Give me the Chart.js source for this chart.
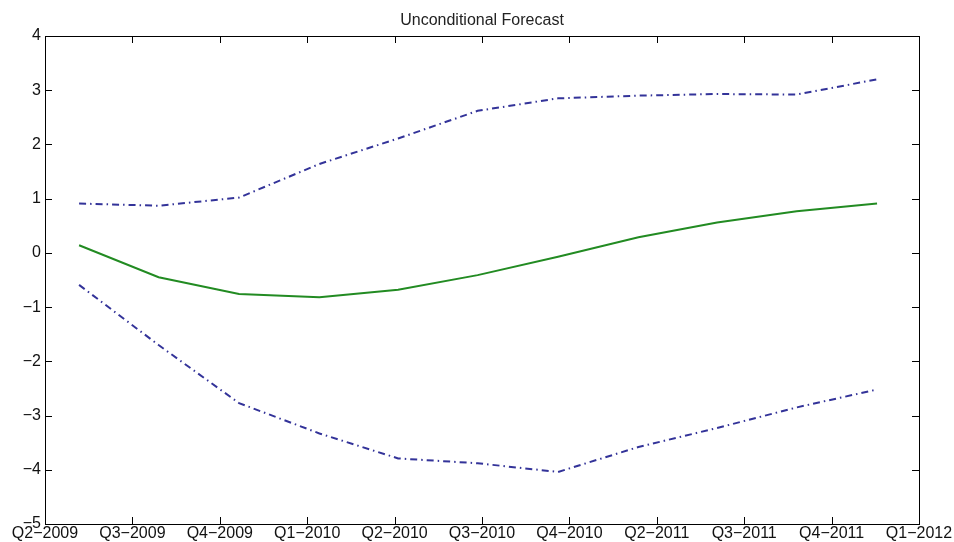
<!DOCTYPE html>
<html>
<head>
<meta charset="utf-8">
<script src="https://cdn.jsdelivr.net/npm/chart.js@4/dist/chart.umd.min.js"></script>
<style>
  html, body { margin: 0; padding: 0; background: #fff; }
  #wrap { width: 954px; height: 542px; }
</style>
</head>
<body>
<div id="wrap"><canvas id="forecastChart"></canvas></div>
<script>
// quarter tick labels (axis runs in days, ticks every 100 days)
const tickLabels = ['Q2\u22122009', 'Q3\u22122009', 'Q4\u22122009', 'Q1\u22122010', 'Q2\u22122010',
  'Q3\u22122010', 'Q4\u22122010', 'Q2\u22122011', 'Q3\u22122011', 'Q4\u22122011', 'Q1\u22122012'];
// forecast dates, days from axis start
const dayPos = [39, 130, 222, 314, 404, 495, 587, 679, 769, 860, 952];
const upperBand = [0.91, 0.87, 1.02, 1.64, 2.11, 2.62, 2.85, 2.90, 2.93, 2.92, 3.20];
const forecast = [0.14, -0.45, -0.76, -0.82, -0.68, -0.41, -0.07, 0.29, 0.56, 0.77, 0.91];
const lowerBand = [-0.59, -1.70, -2.77, -3.33, -3.79, -3.88, -4.04, -3.58, -3.23, -2.85, -2.52];
const chartTitle = 'Unconditional Forecast';

const toPoints = ys => ys.map((y, i) => ({ x: dayPos[i], y: y }));
const minus = v => (v < 0 ? '\u2212' + Math.abs(v) : String(v));
const fontFamily = 'Liberation Sans, Arial, sans-serif';

// box round the plot with inward ticks on all four sides, title centred over the plot
const boxPlugin = {
  id: 'box',
  afterDatasetsDraw(chart) {
    const { ctx, chartArea: a, scales } = chart;
    const len = 7;
    ctx.save();
    ctx.strokeStyle = '#000';
    ctx.lineWidth = 1;
    ctx.beginPath();
    scales.x.ticks.forEach(t => {
      const px = Math.round(scales.x.getPixelForValue(t.value)) + 0.5;
      ctx.moveTo(px, a.bottom); ctx.lineTo(px, a.bottom - len);
      ctx.moveTo(px, a.top); ctx.lineTo(px, a.top + len);
    });
    scales.y.ticks.forEach(t => {
      const py = Math.round(scales.y.getPixelForValue(t.value)) + 0.5;
      ctx.moveTo(a.left, py); ctx.lineTo(a.left + len, py);
      ctx.moveTo(a.right, py); ctx.lineTo(a.right - len, py);
    });
    ctx.stroke();
    ctx.strokeRect(Math.round(a.left) + 0.5, Math.round(a.top) + 0.5,
      Math.round(a.right - a.left), Math.round(a.bottom - a.top));

    ctx.fillStyle = '#222';
    ctx.font = '16px ' + fontFamily;
    ctx.textAlign = 'center';
    ctx.textBaseline = 'middle';
    ctx.fillText(chartTitle, (a.left + a.right) / 2, 21);
    ctx.restore();
  }
};

const dashDot = [7, 4, 1.5, 4];

new Chart(document.getElementById('forecastChart'), {
  type: 'line',
  data: {
    datasets: [{
      label: 'Upper',
      data: toPoints(upperBand),
      borderColor: '#333399',
      borderWidth: 2,
      borderDash: dashDot,
      pointRadius: 0,
      fill: false
    }, {
      label: 'Forecast',
      data: toPoints(forecast),
      borderColor: '#228b22',
      borderWidth: 2,
      pointRadius: 0,
      fill: false
    }, {
      label: 'Lower',
      data: toPoints(lowerBand),
      borderColor: '#333399',
      borderWidth: 2,
      borderDash: dashDot,
      pointRadius: 0,
      fill: false
    }]
  },
  options: {
    responsive: true,
    maintainAspectRatio: false,
    animation: false,
    layout: { padding: { top: 36, left: 0, right: 35, bottom: 0 } },
    plugins: {
      legend: { display: false },
      tooltip: { enabled: false },
      title: { display: false }
    },
    scales: {
      x: {
        type: 'linear',
        min: 0,
        max: 1000,
        grid: { display: false, drawTicks: false },
        border: { display: false },
        ticks: {
          stepSize: 100,
          autoSkip: false,
          maxRotation: 0,
          padding: 0,
          color: '#111',
          font: { family: fontFamily, size: 16 },
          callback: (v, i) => tickLabels[i]
        },
        afterFit: s => { s.height = 18; }
      },
      y: {
        min: -5,
        max: 4,
        grid: { display: false, drawTicks: false },
        border: { display: false },
        ticks: {
          stepSize: 1,
          padding: 4,
          color: '#111',
          font: { family: fontFamily, size: 16 },
          callback: v => minus(v)
        },
        afterFit: s => { s.width = 45; }
      }
    }
  },
  plugins: [boxPlugin]
});
</script>
</body>
</html>
